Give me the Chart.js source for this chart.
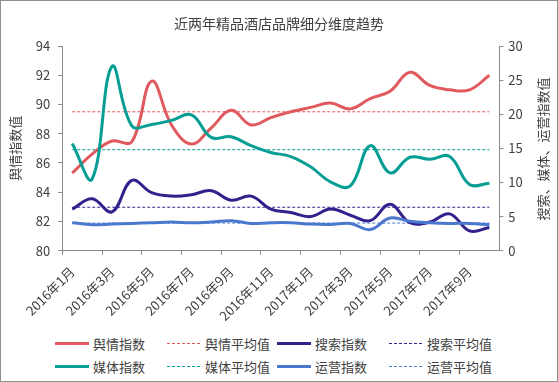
<!DOCTYPE html>
<html><head><meta charset="utf-8">
<script src="https://cdn.jsdelivr.net/npm/chart.js@4"></script>
<style>
html,body{margin:0;padding:0;background:#fff;}
#wrap{position:relative;width:558px;height:382px;overflow:hidden;font-family:"Noto Sans CJK SC","Noto Sans",sans-serif;}
#frame{position:absolute;left:0;top:0;width:558px;height:382px;border:1px solid #8e8e8e;box-sizing:border-box;pointer-events:none;}
#cv{position:absolute;left:0;top:0;}
#rtitle{position:absolute;left:542px;top:149px;transform:translate(-50%,-50%) rotate(-90deg);white-space:nowrap;font-size:13px;color:#404040;}
.lg{position:absolute;display:flex;align-items:center;font-size:13px;color:#404040;white-space:nowrap;height:20px;}
.lg .s{width:34px;margin-right:4px;}
</style></head><body>
<div id="wrap">
<canvas id="cv" width="558" height="330"></canvas>
<div id="rtitle"></div>
<div id="legend"></div>
<div id="frame"></div>
</div>
<script>
const categories = ['2016年1月','2016年2月','2016年3月','2016年4月','2016年5月','2016年6月','2016年7月','2016年8月','2016年9月','2016年10月','2016年11月','2016年12月','2017年1月','2017年2月','2017年3月','2017年4月','2017年5月','2017年6月','2017年7月','2017年8月','2017年9月','2017年10月'];
const yuqing = [85.3, 86.6, 87.5, 87.45, 91.6, 88.6, 87.3, 88.4, 89.6, 88.6, 89.1, 89.5, 89.8, 90.1, 89.7, 90.4, 90.9, 92.2, 91.3, 91.0, 91.0, 92.0];
const sousuo = [6.1, 7.6, 5.7, 10.3, 8.5, 8.0, 8.2, 8.8, 7.4, 8.0, 6.1, 5.6, 5.0, 6.1, 5.2, 4.4, 6.8, 4.1, 4.2, 5.4, 2.9, 3.4];
const meiti = [15.7, 10.5, 27.0, 18.3, 18.5, 19.1, 19.9, 16.6, 16.7, 15.4, 14.4, 13.8, 12.3, 10.1, 9.5, 15.4, 11.4, 13.7, 13.4, 13.8, 9.7, 9.9];
const yunying = [4.1, 3.8, 3.9, 4.0, 4.1, 4.2, 4.1, 4.2, 4.4, 4.0, 4.1, 4.1, 3.9, 3.85, 4.0, 3.1, 4.8, 4.3, 4.1, 4.0, 4.0, 3.8];
const yuqingAvg = 89.5;
const sousuoAvg = 6.37;
const meitiAvg = 14.8;
const yunyingAvg = 4.05;
const leftTicks = [80, 82, 84, 86, 88, 90, 92, 94];
const rightTicks = [0, 5, 10, 15, 20, 25, 30];
const seriesNames = ['舆情指数','舆情平均值','搜索指数','搜索平均值','媒体指数','媒体平均值','运营指数','运营平均值'];
const titleText = '近两年精品酒店品牌细分维度趋势';
const leftTitle = '舆情指数值';
const rightTitle = '搜索、媒体、运营指数值';

const C = {red:'#E0595E', purple:'#34208C', teal:'#069E94', blue:'#4A78CE'};
const FONT = '"Noto Sans CJK SC","Noto Sans",sans-serif';
const TXT = '#404040';
const AX = '#8a8a8a';

function avgLine(v){ return categories.map(() => v); }
function solid(label, data, color, axis, order){
  return {label, data, borderColor:color, backgroundColor:color, borderWidth:3, tension:0.4, pointRadius:0, pointHoverRadius:0, fill:false, yAxisID:axis, order};
}
function dashed(label, data, color, axis, order){
  return {label, data, borderColor:color, backgroundColor:color, borderWidth:1, borderDash:[3,2], tension:0, pointRadius:0, pointHoverRadius:0, fill:false, yAxisID:axis, order};
}
const datasets = [
  solid(seriesNames[0], yuqing, C.red, 'y', 4),
  dashed(seriesNames[1], avgLine(yuqingAvg), C.red, 'y', 8),
  solid(seriesNames[2], sousuo, C.purple, 'y1', 3),
  dashed(seriesNames[3], avgLine(sousuoAvg), C.purple, 'y1', 7),
  solid(seriesNames[4], meiti, C.teal, 'y1', 2),
  dashed(seriesNames[5], avgLine(meitiAvg), C.teal, 'y1', 6),
  solid(seriesNames[6], yunying, C.blue, 'y1', 1),
  dashed(seriesNames[7], avgLine(yunyingAvg), C.blue, 'y1', 5)
];

new Chart(document.getElementById('cv'), {
  type:'line',
  data:{labels:categories, datasets},
  options:{
    responsive:false, animation:false, devicePixelRatio:1,
    layout:{padding:{left:0,right:0,top:0,bottom:0}},
    plugins:{
      legend:{display:false}, tooltip:{enabled:false},
      title:{display:true, text:titleText, color:TXT, font:{family:FONT, size:14, weight:'normal'}, padding:{top:15.6, bottom:13.6}}
    },
    scales:{
      x:{
        type:'category', offset:true,
        grid:{offset:true, drawOnChartArea:false, drawTicks:true, tickLength:4, color:(ctx)=> ctx.index % 2 === 0 ? AX : 'rgba(0,0,0,0)'},
        border:{color:AX, width:1},
        ticks:{autoSkip:false, maxRotation:45, minRotation:45, padding:9, color:TXT, font:{family:FONT, size:13},
          callback:(v,i)=> i % 2 === 0 ? categories[i] : ''},
        afterFit:(s)=>{ s.height = 79.3; }
      },
      y:{
        position:'left', min:leftTicks[0], max:leftTicks[leftTicks.length-1],
        afterBuildTicks:(s)=>{ s.ticks = leftTicks.map(v=>({value:v})); },
        grid:{drawOnChartArea:false, drawTicks:true, tickLength:4, color:AX},
        border:{color:AX, width:1},
        ticks:{padding:8, color:TXT, font:{family:FONT, size:13}},
        title:{display:true, text:leftTitle, color:TXT, font:{family:FONT, size:13}, padding:{top:7, bottom:0}},
        afterFit:(s)=>{ s.width = 62.3; }
      },
      y1:{
        position:'right', min:rightTicks[0], max:rightTicks[rightTicks.length-1],
        afterBuildTicks:(s)=>{ s.ticks = rightTicks.map(v=>({value:v})); },
        grid:{drawOnChartArea:false, drawTicks:true, tickLength:4, color:AX},
        border:{color:AX, width:1},
        ticks:{padding:5, color:TXT, font:{family:FONT, size:13}},
        afterFit:(s)=>{ s.width = 58.7; }
      }
    }
  }
});

document.getElementById('rtitle').textContent = rightTitle;
const legend = document.getElementById('legend');
const colX = [55, 167, 277, 389];
const rowY = [343, 366.5];
const legendColors = [C.red, C.red, C.purple, C.purple, C.teal, C.teal, C.blue, C.blue];
seriesNames.forEach((name, i) => {
  const el = document.createElement('div');
  el.className = 'lg';
  el.style.left = colX[i % 4] + 'px';
  el.style.top = (rowY[Math.floor(i / 4)] - 10) + 'px';
  const s = document.createElement('span');
  s.className = 's';
  const col = legendColors[i];
  if (i % 2 === 0) { s.style.height = '3px'; s.style.background = col; }
  else { s.style.height = '1px'; s.style.background = 'repeating-linear-gradient(to right,' + col + ' 0 3px, transparent 3px 5px)'; }
  el.appendChild(s);
  const t = document.createElement('span');
  t.textContent = name;
  el.appendChild(t);
  legend.appendChild(el);
});
</script>
</body></html>
